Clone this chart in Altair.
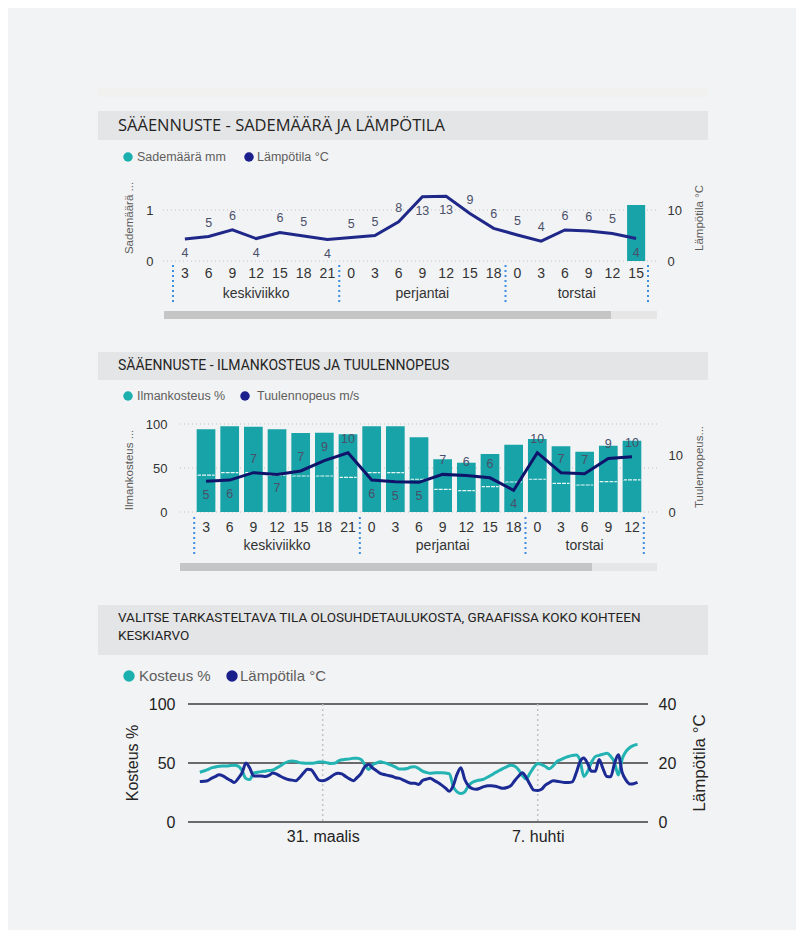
import altair as alt
import pandas as pd

# ---------------- data ----------------
# Panel 1: precipitation & temperature forecast
p1_title = "SÄÄENNUSTE - SADEMÄÄRÄ JA LÄMPÖTILA"
p1_series = ["Sademäärä mm", "Lämpötila °C"]
p1_days = ["keskiviikko", "perjantai", "torstai"]
p1_hours = [[3, 6, 9, 12, 15, 18, 21], [0, 3, 6, 9, 12, 15, 18], [0, 3, 6, 9, 12, 15]]
p1_rain_mm = [0, 0, 0, 0, 0, 0, 0, 0, 0, 0, 0, 0, 0, 0, 0, 0, 0, 0, 0, 1.1]
p1_temp_c = [4.3, 4.8, 6.1, 4.4, 5.6, 4.9, 4.2, 4.6, 5.0, 7.7, 12.6, 12.7, 9.3, 6.4, 5.1, 3.9, 6.1, 5.9, 5.4, 4.4]
p1_label_below = [1, 0, 0, 1, 0, 0, 1, 0, 0, 0, 1, 1, 0, 0, 0, 0, 0, 0, 0, 1]
p1_left_ticks = [0, 1]
p1_right_ticks = [0, 10]

# Panel 2: humidity & wind speed forecast
p2_title = "SÄÄENNUSTE - ILMANKOSTEUS JA TUULENNOPEUS"
p2_series = ["Ilmankosteus %", "Tuulennopeus m/s"]
p2_days = ["keskiviikko", "perjantai", "torstai"]
p2_hours = [[3, 6, 9, 12, 15, 18, 21], [0, 3, 6, 9, 12, 15, 18], [0, 3, 6, 9, 12]]
p2_humidity = [94, 97.4, 97, 94, 89.8, 90, 88.3, 97.4, 97.4, 84.9, 60, 56, 66, 76.5, 83, 74.6, 68.6, 75.4, 81]
p2_inner_mark = [42, 44.7, 44.7, 42, 40.9, 40.9, 39.4, 44.7, 44.7, 37.2, 25.8, 24.2, 28.8, 34.1, 37.2, 32.6, 30.7, 34.4, 36.4]
p2_wind = [5.4, 5.6, 6.9, 6.6, 7.2, 9.0, 10.4, 5.6, 5.3, 5.2, 6.6, 6.4, 6.0, 3.8, 10.4, 6.9, 6.7, 9.4, 9.7]
p2_label_below = [1, 1, 0, 1, 0, 0, 0, 1, 1, 1, 0, 0, 0, 1, 0, 0, 0, 0, 0]
p2_left_ticks = [0, 50, 100]
p2_right_ticks = [0, 10]

# Panel 3: average humidity & temperature (3-hourly)
p3_title = ["VALITSE TARKASTELTAVA TILA OLOSUHDETAULUKOSTA, GRAAFISSA KOKO KOHTEEN", "KESKIARVO"]
p3_series = ["Kosteus %", "Lämpötila °C"]
p3_start = "2024-03-27 00:00"
p3_step = "3h"
p3_humidity = [
    42.2, 43.2, 44.3, 45.8, 46.6, 47.3, 47.5, 47.5, 47.9, 48.1, 47.3, 43.5, 36.9, 36.0, 41.4, 42.1,
    42.7, 43.1, 43.6, 44.0, 45.8, 47.7, 49.8, 51.2, 51.6, 51.2, 50.3, 50.0, 49.7, 49.7, 50.1, 50.8,
    50.8, 50.3, 49.6, 49.7, 51.5, 52.7, 53.1, 53.5, 54.0, 54.0, 52.9, 48.4, 44.5, 48.5, 50.0, 51.1,
    50.3, 49.3, 48.0, 46.5, 44.9, 44.9, 45.3, 46.6, 46.9, 45.3, 43.1, 42.0, 41.3, 41.6, 41.8, 41.8,
    41.5, 40.8, 30.1, 25.5, 24.1, 25.6, 30.8, 33.6, 34.9, 35.6, 36.4, 38.1, 39.8, 41.9, 43.6, 45.4,
    47.0, 48.1, 47.3, 44.3, 39.4, 36.5, 41.4, 46.4, 49.5, 48.7, 47.0, 45.1, 47.5, 51.2, 52.9, 54.4,
    55.5, 56.3, 56.7, 52.6, 38.6, 42.8, 50.6, 55.4, 56.5, 57.4, 58.2, 55.7, 50.6, 39.8, 53.4, 59.8,
    63.1, 65.0, 65.8,
]
p3_temp = [
    13.7, 13.8, 14.0, 14.8, 15.4, 16.0, 15.6, 14.8, 14.1, 13.4, 14.8, 16.7, 20.0, 18.3, 15.6, 15.6,
    15.6, 15.4, 15.8, 16.6, 16.2, 15.5, 14.9, 14.4, 14.2, 14.0, 15.1, 16.6, 17.9, 17.7, 16.0, 14.2,
    14.0, 14.4, 15.2, 16.1, 16.5, 16.3, 15.4, 14.6, 14.0, 15.1, 16.5, 18.8, 19.5, 18.3, 17.4, 16.5,
    16.1, 15.8, 15.5, 15.0, 14.8, 14.2, 13.6, 13.1, 13.1, 12.7, 14.1, 14.5, 14.8, 14.1, 13.4, 12.5,
    11.5, 10.4, 12.3, 16.2, 18.4, 14.4, 12.2, 11.3, 11.1, 11.5, 12.0, 12.3, 12.3, 12.1, 11.7, 11.4,
    11.7, 12.3, 14.0, 15.5, 16.7, 15.1, 12.7, 10.8, 10.7, 11.1, 12.5, 13.3, 14.0, 13.8, 13.6, 13.4,
    13.4, 13.6, 16.5, 20.4, 21.7, 19.8, 17.2, 17.2, 21.2, 18.1, 15.4, 15.3, 19.8, 22.8, 16.8, 14.2,
    12.9, 13.0, 13.4,
]
p3_tick_dates = ["2024-03-31", "2024-04-07"]
p3_month_names = {3: "maalis", 4: "huhti"}
p3_domain = ["2024-03-26", "2024-04-11"]
p3_left_ticks = [0, 50, 100]
p3_right_ticks = [0, 20, 40]

# ---------------- style ----------------
W = 610
CARD = "#f2f3f5"
HEADER = "#e4e5e7"
TEAL = "#17a3a7"
TEAL_DOT = "#1bb0ae"
NAVY_DOT = "#1a1f8c"
NAVY1 = "#1f2889"
NAVY2 = "#0f146b"
TEAL3 = "#23b3b3"
NAVY3 = "#1c2a94"
SEP = "#3d8ee0"
AX = "#333333"
SUB = "#605e5c"
PTLBL = "#4a4f6a"
FONT = "Liberation Sans"
TFONT = "Open Sans"
NARROW = "Liberation Sans Narrow, Roboto, sans-serif"


def one_row():
    return pd.DataFrame({"k": [0]})


def rect(x1, x2, y1, y2, color):
    return alt.Chart(one_row()).mark_rect(color=color).encode(
        x=alt.value(x1), x2=alt.value(x2), y=alt.value(y1), y2=alt.value(y2))


def label(text, x, y, size, color, font, align="left", angle=0, baseline="middle", lh=None, weight="normal"):
    kw = dict(text=text, align=align, baseline=baseline, fontSize=size, color=color, font=font, angle=angle,
              fontWeight=weight)
    if lh is not None:
        kw["lineHeight"] = lh
    return alt.Chart(one_row()).mark_text(**kw).encode(x=alt.value(x), y=alt.value(y))


def legend(names, colors, xs_dot, xs_txt, y, dot_size, fsize, font):
    out = []
    for n, c, xd, xt in zip(names, colors, xs_dot, xs_txt):
        out.append(alt.Chart(one_row()).mark_circle(color=c, size=dot_size, opacity=1).encode(
            x=alt.value(xd), y=alt.value(y)))
        out.append(label(n, xt, y, fsize, SUB, font))
    return out


def ax_y(orient, values, offset, size=13, color=AX, font=FONT):
    return alt.Axis(orient=orient, values=values, offset=offset, title=None, grid=False, domain=False,
                    ticks=False, labelPadding=4, labelFontSize=size, labelColor=color, labelFont=font,
                    format="d")


def point_labels(df, xenc, yfield, yscale, color, size, dy):
    base = alt.Chart(df).encode(
        x=xenc, y=alt.Y(f"{yfield}:Q", scale=yscale, axis=None),
        text=alt.Text(f"{yfield}:Q", format=".0f"))
    up = base.transform_filter("datum.below == 0").mark_text(dy=-dy, fontSize=size, color=color, font=FONT)
    dn = base.transform_filter("datum.below == 1").mark_text(dy=dy, fontSize=size, color=color, font=FONT)
    return [up, dn]


def hier_parts(days, hours):
    cats, starts, pos = [], [], 0
    for d, hs in zip(days, hours):
        starts.append(pos)
        for h in hs:
            cats.append(f"{d}|{h}")
        pos += len(hs)
    centers = [s + (len(hs) - 1) / 2 for s, hs in zip(starts, hours)]
    bounds = [s - 0.5 for s in starts] + [pos - 0.5]
    return cats, centers, bounds, pos


def band_panel(title, title_font, title_size, series, days, hours, bar_vals, line_vals, below,
               height, hdr, legend_y, legend_dot_x, legend_txt_x, xrange, pad_inner,
               yl_scale, yr_scale, yl_ticks, yr_ticks, yl_off, yr_off, grid_x, grid_vals,
               xaxis_off, day_y, sep_y, scroll, ltitle, rtitle, title_y, line_color, inner=None,
               top_band=False):
    cats, centers, bounds, n = hier_parts(days, hours)
    df = pd.DataFrame({"cat": cats, "bar": bar_vals, "line": line_vals, "below": below})
    if inner is not None:
        df["inner"] = inner
    xs = alt.Scale(domain=cats, range=xrange, paddingInner=pad_inner, paddingOuter=pad_inner / 2)
    xi = alt.Scale(domain=[-0.5, n - 0.5], range=xrange)
    layers = [rect(0, W, 4, 13, "#f1f2ef")] if top_band else []
    layers.append(rect(0, W, hdr[0], hdr[1], HEADER))
    layers.append(label(title, 20, (hdr[0] + hdr[1]) / 2, title_size, "#252423", title_font))
    layers += legend(series, [TEAL_DOT, NAVY_DOT], legend_dot_x, legend_txt_x, legend_y, 90, 12.5, FONT)
    layers.append(alt.Chart(pd.DataFrame({"v": grid_vals})).mark_rule(
        color="#c4c4c4", strokeDash=[1, 3], strokeWidth=1).encode(
        x=alt.value(grid_x[0]), x2=alt.value(grid_x[1]), y=alt.Y("v:Q", scale=yl_scale, axis=None)))
    layers.append(alt.Chart(df).mark_bar(color=TEAL).encode(
        x=alt.X("cat:N", scale=xs, sort=None, title=None,
                axis=alt.Axis(orient="bottom", offset=xaxis_off, labelExpr="split(datum.value, '|')[1]",
                              labelAngle=0, domain=False, ticks=False, labelPadding=3, labelFontSize=14,
                              labelColor=AX, labelFont=FONT, grid=False, labelOverlap=False)),
        y=alt.Y("bar:Q", scale=yl_scale, axis=ax_y("left", yl_ticks, yl_off))))
    if inner is not None:
        layers.append(alt.Chart(df).mark_tick(orient="horizontal", size=16, thickness=0.01, filled=False,
                                              stroke="white", strokeWidth=1.2, strokeDash=[3, 2],
                                              opacity=0.9).encode(
            x=alt.X("cat:N", scale=xs, sort=None, axis=None),
            y=alt.Y("inner:Q", scale=yl_scale, axis=None)))
    layers.append(alt.Chart(df).mark_line(color=line_color, strokeWidth=3).encode(
        x=alt.X("cat:N", scale=xs, sort=None, axis=None),
        y=alt.Y("line:Q", scale=yr_scale, axis=ax_y("right", yr_ticks, yr_off))))
    layers += point_labels(df, alt.X("cat:N", scale=xs, sort=None, axis=None), "line", yr_scale, PTLBL, 12.5, 14)
    layers.append(alt.Chart(pd.DataFrame({"day": days, "c": centers})).mark_text(
        fontSize=14, color=AX, font=FONT, baseline="middle").encode(
        x=alt.X("c:Q", scale=xi, axis=None), y=alt.value(day_y), text="day:N"))
    layers.append(alt.Chart(pd.DataFrame({"b": bounds})).mark_rule(
        color=SEP, strokeWidth=2, strokeDash=[2, 3]).encode(
        x=alt.X("b:Q", scale=xi, axis=None), y=alt.value(sep_y[0]), y2=alt.value(sep_y[1])))
    layers.append(rect(scroll[0], scroll[2], scroll[3], scroll[4], "#e6e6e6"))
    layers.append(rect(scroll[0], scroll[1], scroll[3], scroll[4], "#c5c5c5"))
    layers.append(label(ltitle, 32, title_y[0], 11.5, SUB, FONT, align="center", angle=270))
    layers.append(label(rtitle, 602, title_y[1], 11.5, SUB, FONT, align="center", angle=270))
    return alt.layer(*layers).resolve_scale(x="independent", y="independent").properties(width=W, height=height)


p1 = band_panel(
    p1_title, TFONT, 16.5, p1_series, p1_days, p1_hours, p1_rain_mm, p1_temp_c, p1_label_below,
    height=246, hdr=(27, 56), legend_y=73, legend_dot_x=[30, 151], legend_txt_x=[39, 159],
    xrange=[75, 550], pad_inner=0.24,
    yl_scale=alt.Scale(domain=[0, 1.2], range=[177, 115.8], nice=False),
    yr_scale=alt.Scale(domain=[0, 12], range=[177, 115.8], nice=False),
    yl_ticks=p1_left_ticks, yr_ticks=p1_right_ticks, yl_off=-59, yr_off=-45,
    grid_x=(65, 560), grid_vals=p1_left_ticks, xaxis_off=-67, day_y=210, sep_y=(181, 218),
    scroll=(66, 513, 559, 227, 235), ltitle="Sademäärä ...", rtitle="Lämpötila °C",
    title_y=(134, 134), line_color=NAVY1, top_band=True)

p2 = band_panel(
    p2_title, NARROW, 14, p2_series, p2_days, p2_hours, p2_humidity, p2_wind, p2_label_below,
    height=260, hdr=(22, 50), legend_y=66, legend_dot_x=[30, 147], legend_txt_x=[39, 159],
    xrange=[96.2, 545.8], pad_inner=0.21,
    yl_scale=alt.Scale(domain=[0, 100], range=[182, 94], nice=False),
    yr_scale=alt.Scale(domain=[0, 15], range=[182, 96.5], nice=False),
    yl_ticks=p2_left_ticks, yr_ticks=p2_right_ticks, yl_off=-73, yr_off=-44,
    grid_x=(82, 559), grid_vals=p2_left_ticks, xaxis_off=-73, day_y=216, sep_y=(187, 226),
    scroll=(82, 494, 559, 233, 241), ltitle="Ilmankosteus ...", rtitle="Tuulennopeus...",
    title_y=(140, 137), line_color=NAVY2, inner=p2_inner_mark)

# ---- panel 3 ----
df3 = pd.DataFrame({
    "t": pd.date_range(p3_start, periods=len(p3_humidity), freq=p3_step),
    "hum": p3_humidity, "temp": p3_temp})


def dt(s):
    ts = pd.Timestamp(s)
    return alt.DateTime(year=ts.year, month=ts.month, date=ts.day)


XT3 = alt.Scale(type="time", domain=[dt(p3_domain[0]), dt(p3_domain[1])], range=[71.13, 562.56])
YH3 = alt.Scale(domain=[0, 100], range=[232, 114], nice=False)
YT3 = alt.Scale(domain=[0, 40], range=[232, 114], nice=False)
month_expr = " : ".join(f"month(datum.value) == {m - 1} ? '{nm}'" for m, nm in p3_month_names.items()) + " : ''"
xlabel_expr = f"date(datum.value) + '. ' + ({month_expr})"

l3 = [
    rect(0, W, 15, 65, HEADER),
    label(p3_title, 20, 21, 13.5, "#252423", NARROW, baseline="top", lh=18),
]
l3 += legend(p3_series, [TEAL_DOT, NAVY_DOT], [31, 134], [41, 142], 86, 130, 15, FONT)
l3.append(alt.Chart(pd.DataFrame({"v": p3_left_ticks})).mark_rule(color="#6a6a6a", strokeWidth=2).encode(
    x=alt.value(90), x2=alt.value(550), y=alt.Y("v:Q", scale=YH3, axis=None)))
l3.append(alt.Chart(pd.DataFrame({"t": pd.to_datetime(p3_tick_dates)})).mark_rule(
    color="#c2c2c2", strokeDash=[2, 3], strokeWidth=1.5).encode(
    x=alt.X("t:T", scale=XT3, title=None,
            axis=alt.Axis(orient="bottom", offset=-48, values=[dt(d) for d in p3_tick_dates],
                          labelExpr=xlabel_expr, domain=False, ticks=False, grid=False, labelPadding=6,
                          labelFontSize=16, labelColor="#222222", labelFont=FONT, labelFlush=False)),
    y=alt.value(114), y2=alt.value(232)))
l3.append(alt.Chart(df3).mark_line(color=TEAL3, strokeWidth=3, interpolate="monotone").encode(
    x=alt.X("t:T", scale=XT3, axis=None),
    y=alt.Y("hum:Q", scale=YH3, axis=ax_y("left", p3_left_ticks, -81, 16, "#222222"))))
l3.append(alt.Chart(df3).mark_line(color=NAVY3, strokeWidth=3, interpolate="monotone").encode(
    x=alt.X("t:T", scale=XT3, axis=None),
    y=alt.Y("temp:Q", scale=YT3, axis=ax_y("right", p3_right_ticks, -54, 16, "#222222"))))
l3.append(label("Kosteus %", 35, 173, 16, "#252423", FONT, align="center", angle=270))
l3.append(label("Lämpötila °C", 602, 173, 17, "#252423", FONT, align="center", angle=270))
p3 = alt.layer(*l3).resolve_scale(x="independent", y="independent").properties(width=W, height=280)

chart = alt.vconcat(p1, p2, p3, spacing=0).properties(
    padding={"left": 90, "top": 76, "right": 88, "bottom": 60},
    background=CARD,
).configure_view(strokeWidth=0)

chart.save("out.html", embed_options={"renderer": "svg", "actions": False})
